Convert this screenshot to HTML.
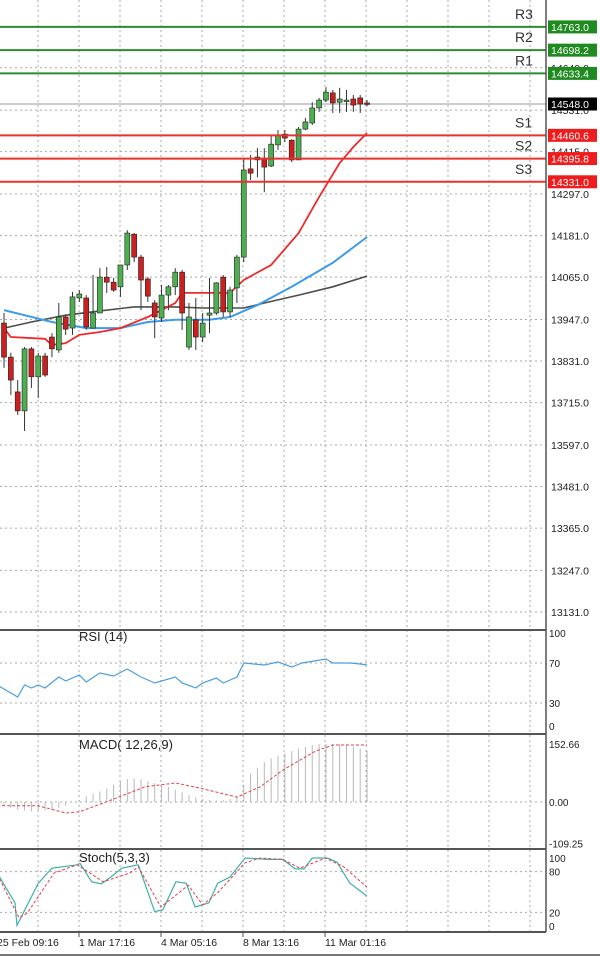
<!DOCTYPE html>
<html><head><meta charset="utf-8">
<style>
html,body{margin:0;padding:0;background:#fff;}
svg{display:block;font-family:"Liberation Sans",sans-serif;}
</style></head>
<body>
<svg id="c" width="600" height="957" viewBox="0 0 600 957" xmlns="http://www.w3.org/2000/svg">
<defs>
<clipPath id="cpMain"><rect x="0" y="0" width="546" height="629"/></clipPath>
<clipPath id="cpRsi"><rect x="0" y="632" width="546" height="101"/></clipPath>
<clipPath id="cpMacd"><rect x="0" y="736" width="546" height="112"/></clipPath>
<clipPath id="cpSto"><rect x="0" y="851" width="546" height="81"/></clipPath>
</defs>
<g id="grid"></g>
<g id="main" clip-path="url(#cpMain)"></g>
<g id="rsi" clip-path="url(#cpRsi)"></g>
<g id="macd" clip-path="url(#cpMacd)"></g>
<g id="sto" clip-path="url(#cpSto)"></g>
<g id="axes"></g>
</svg>
<script>
// ---- data ----
const openP  = [13937,13842,13745,13692,13865,13787,13845,13898,13862,13954,13923,14007,14007,13923,13965,14065,14051,14038,14099,14185,14121,14060,13993,13951,14015,14038,14079,13870,13946,13898,13959,13965,14065,13968,14035,14121,14367,14400,14397,14375,14434,14464,14447,14392,14478,14495,14537,14559,14579,14553,14556,14562,14565,14551];
const closeP = [13842,13778,13692,13865,13787,13845,13792,13865,13954,13920,14010,14018,13926,13965,14065,14051,14029,14099,14188,14121,14057,14012,13954,14015,14038,14079,13965,13954,13898,13937,13965,14049,13968,14029,14121,14364,14355,14392,14372,14436,14461,14453,14392,14478,14498,14537,14559,14581,14551,14562,14559,14545,14548,14548];
const highP  = [13965,13854,13778,13870,13870,13854,13854,13909,13993,13959,14024,14029,14015,14071,14090,14093,14063,14099,14196,14188,14127,14065,14001,14043,14043,14090,14085,13993,14007,13965,14063,14051,14071,14038,14127,14397,14406,14425,14425,14461,14475,14475,14450,14484,14509,14553,14565,14595,14587,14593,14587,14573,14573,14559];
const lowP   = [13812,13736,13681,13636,13756,13728,13787,13842,13854,13904,13904,13996,13918,13923,13965,14021,14024,14010,14085,14107,13973,13996,13895,13940,13973,14015,13918,13862,13862,13884,13909,13959,13954,13954,13993,14107,14336,14344,14302,14372,14420,14442,14386,14392,14475,14489,14526,14553,14523,14523,14526,14526,14523,14542];
const maFastIdx = [0,1,6,7,9,11,14,17,21,25,26,33,35,39,43,46,49,51,53];
const maFastVal = [13923,13898,13893,13876,13881,13904,13912,13923,13954,13993,14021,14021,14057,14099,14188,14289,14383,14428,14467];
const maMidIdx = [0,3,7,12,17,21,25,30,33,37,42,48,53];
const maMidVal = [13973,13959,13940,13923,13923,13940,13946,13946,13954,13987,14038,14105,14177];
const maSlowIdx = [0,4,9,14,19,25,29,35,38,43,48,53];
const maSlowVal = [13923,13940,13959,13971,13982,13982,13979,13979,13993,14015,14038,14068];
const levelNames = ["R3","R2","R1","S1","S2","S3"];
const levelVals = [14763.0,14698.2,14633.4,14460.6,14395.8,14331.0];
const currentPrice = 14548.0;
const priceTicks = [14649.0,14531.0,14415.0,14297.0,14181.0,14065.0,13947.0,13831.0,13715.0,13597.0,13481.0,13365.0,13247.0,13131.0];
const rsiIdx = [-1,2,3,4,5,6,8,9,11,12,14,16,18,20,22,25,26,28,29,31,32,34,35,38,40,42,43.5,47,48,50.5,52,53];
const rsiVal = [48,36,48,45,48,45,56,52,58,51,60,57,64,56,50,56,50,45,50,55,50,56,70,68,71,66,70,74,70,70,69,68];
const macdHist = [-10,-15,-20,-22,-25,-25,-22,-20,-15,-10,0,5,15,22,28,35,45,55,60,62,60,55,50,45,40,32,25,18,12,8,5,4,5,8,15,45,75,90,105,115,122,128,134,140,145,150,152,153,153,152,150,145,140,135];
const macdSigIdx = [-1,5,9,11,15.6,20.6,25,28.5,34,37.4,40.7,45.3,48,53];
const macdSigVal = [-10,-10,-29,-26,5,40,50,37,13,40,84,132,150,150];
const stoKIdx = [-1,1.6,1.9,5,7,10.7,11.1,12.8,14.2,15.6,17.2,19.6,22,23.2,25.1,26.6,27.9,29.9,31.2,33,35.2,38.5,40.7,42.5,43.8,45,47.2,48.6,50.5,53];
const stoKVal = [78,34,1,63,85,90,92,65,62,72,85,90,21,24,65,63,28,34,63,72,100,98,98,84,84,100,100,94,63,44];
const stoDIdx = [-1,2.2,3.4,7.3,10.7,14.5,18.4,19.6,22.9,26.9,29,31.2,35.2,37.4,40.7,43.2,46.9,49.6,53];
const stoDVal = [76,12,19,78,90,65,78,87,28,60,31,49,93,100,98,85,100,87,57];
const timeLabels = ["25 Feb 09:16","1 Mar 17:16","4 Mar 05:16","8 Mar 13:16","11 Mar 01:16"];

// ---- scales ----
const NS="http://www.w3.org/2000/svg";
const xI = i => 4 + i*6.85;
const yP = p => 612 - (p-13131)*0.3585;
const yR = v => 733 - v*1.0;
const yM = v => 802 - v*(58/152.66);
const yS = v => 926 - v*0.68;
function mk(parent,tag,attrs){const e=document.createElementNS(NS,tag);for(const k in attrs)e.setAttribute(k,attrs[k]);document.getElementById(parent).appendChild(e);return e;}
function txt(parent,x,y,s,attrs){const e=mk(parent,'text',Object.assign({x:x,y:y},attrs||{}));e.textContent=s;return e;}
function poly(idx,val,fx,fy){return idx.map((v,k)=>fx(v).toFixed(1)+','+fy(val[k]).toFixed(1)).join(' ');}

// grid verticals
for(let k=0;k<13;k++){
  const x=38+41*k;
  const g=mk('grid','line',{x1:x,y1:0,x2:x,y2:932,stroke:'#a9a9a9','stroke-width':1,'stroke-dasharray':'2,3'});
  
  
}
// horizontal grid main
priceTicks.forEach(p=>{
  const g=mk('grid','line',{x1:0,y1:yP(p),x2:546,y2:yP(p),stroke:'#a9a9a9','stroke-width':1,'stroke-dasharray':'2,3'});
  
  
});
[70,30].forEach(v=>{mk('grid','line',{x1:0,y1:yR(v),x2:546,y2:yR(v),stroke:'#a9a9a9','stroke-dasharray':'2,3'});});
mk('grid','line',{x1:0,y1:yM(0),x2:546,y2:yM(0),stroke:'#a9a9a9','stroke-dasharray':'2,3'});
[80,20].forEach(v=>{mk('grid','line',{x1:0,y1:yS(v),x2:546,y2:yS(v),stroke:'#a9a9a9','stroke-dasharray':'2,3'});});

// current price line
const cl=mk('main','line',{x1:0,y1:yP(currentPrice),x2:546,y2:yP(currentPrice),stroke:'#b8bcc4','stroke-width':1.5});



// MAs
const m1=mk('main','polyline',{points:poly(maSlowIdx,maSlowVal,xI,yP),fill:'none',stroke:'#4a4f4a','stroke-width':1.6});


const m2=mk('main','polyline',{points:poly(maMidIdx,maMidVal,xI,yP),fill:'none',stroke:'#3d9be9','stroke-width':2});


const m3=mk('main','polyline',{points:poly(maFastIdx,maFastVal,xI,yP),fill:'none',stroke:'#ee2a2a','stroke-width':1.8});



// candles
openP.forEach((o,i)=>{
  const c=closeP[i], up=c>=o, x=xI(i);
  const col=up?'#3a9a3a':'#c41c1c', fill=up?'#4caf50':'#cc1f1f';
  const w=mk('main','line',{x1:x,y1:yP(highP[i]),x2:x,y2:yP(lowP[i]),stroke:'#333','stroke-width':1});
  
  
  const top=yP(Math.max(o,c)), h=Math.max(1.5,Math.abs(yP(o)-yP(c)));
  const b=mk('main','rect',{x:x-2.5,y:top,width:5,height:h,fill:fill,stroke:'#222','stroke-width':0.6});
  
  
});

// levels
levelVals.forEach((v,k)=>{
  const isR=levelNames[k][0]==='R';
  const col=isR?'#2e8b2e':'#e8322f';
  const l=mk('main','line',{x1:0,y1:yP(v),x2:546,y2:yP(v),stroke:col,'stroke-width':2});
  
  
  const t=txt('axes',515,yP(v)-8,levelNames[k],{'font-size':14,fill:'#333'});
  
  
});

// right axis price labels
priceTicks.forEach(p=>{
  const t=txt('axes',551,yP(p)+4,p.toFixed(1),{'font-size':10.5,fill:'#222'});
  
  
});
levelVals.forEach((v,k)=>{
  const isR=levelNames[k][0]==='R';
  const r=mk('axes','rect',{x:548,y:yP(v)-6.5,width:49,height:13,fill:isR?'#1f8a1f':'#ee1c1c'});
  
  
  const t=txt('axes',551,yP(v)+4,v.toFixed(1),{'font-size':10.5,fill:'#fff'});
  
  
});
{
  const r=mk('axes','rect',{x:548,y:yP(currentPrice)-6.5,width:49,height:13,fill:'#000'});
  
  
  const t=txt('axes',551,yP(currentPrice)+4,currentPrice.toFixed(1),{'font-size':10.5,fill:'#fff'});
  
  
}

// RSI
const rl=mk('rsi','polyline',{points:poly(rsiIdx,rsiVal,xI,yR),fill:'none',stroke:'#4a9ee0','stroke-width':1.2});



// MACD
macdHist.forEach((v,i)=>{
  const b=mk('macd','line',{x1:xI(i),y1:yM(0),x2:xI(i),y2:yM(v),stroke:'#b8b8b8','stroke-width':1});
  
  
});
const ms=mk('macd','polyline',{points:poly(macdSigIdx,macdSigVal,xI,yM),fill:'none',stroke:'#e0404a','stroke-width':1,'stroke-dasharray':'3,2'});



// Stoch
const sk=mk('sto','polyline',{points:poly(stoKIdx,stoKVal,xI,yS),fill:'none',stroke:'#3fb0a8','stroke-width':1.2});


const sd=mk('sto','polyline',{points:poly(stoDIdx,stoDVal,xI,yS),fill:'none',stroke:'#e0404a','stroke-width':1,'stroke-dasharray':'3,2'});



// panel borders
[[630,630],[734,734],[849,849],[932,932]].forEach(([a])=>{
  const l=mk('axes','line',{x1:0,y1:a,x2:546,y2:a,stroke:'#555','stroke-width':2});
  
  
});
{
  const l=mk('axes','line',{x1:546,y1:0,x2:546,y2:932,stroke:'#555','stroke-width':1.5});
  
  
  const b=mk('axes','line',{x1:0,y1:955,x2:600,y2:955,stroke:'#777','stroke-width':2});
  
  
}
// panel titles
[['RSI (14)',641,'rsi-title'],['MACD( 12,26,9)',749,'macd-title'],['Stoch(5,3,3)',862,'stoch-title']].forEach(([s,y,n])=>{
  const t=txt('axes',79,y,s,{'font-size':13,fill:'#222'});
  
  
});
// indicator axis labels
const rsiTicks=[100,70,30,0];
rsiTicks.forEach(v=>{const t=txt('axes',549,Math.min(yR(v)+4,730),String(v),{'font-size':10,fill:'#222'});});
const macdTicks=[152.66,0,-109.25];
macdTicks.forEach(v=>{const t=txt('axes',549,yM(v)+4,v.toFixed(2),{'font-size':10,fill:'#222'});});
const stoTicks=[100,80,20,0];
stoTicks.forEach(v=>{const t=txt('axes',549,yS(v)+4,String(v),{'font-size':10,fill:'#222'});});
// time labels
timeLabels.forEach((s,k)=>{
  const x=-3+82*k;
  const t=txt('axes',k===0?-3:79+82*(k-1),946,s,{'font-size':10.5,fill:'#222'});
  
  
  if(k>0){const tk=mk('axes','line',{x1:79+82*(k-1),y1:932,x2:79+82*(k-1),y2:937,stroke:'#555'});}
});
</script>
</body></html>
